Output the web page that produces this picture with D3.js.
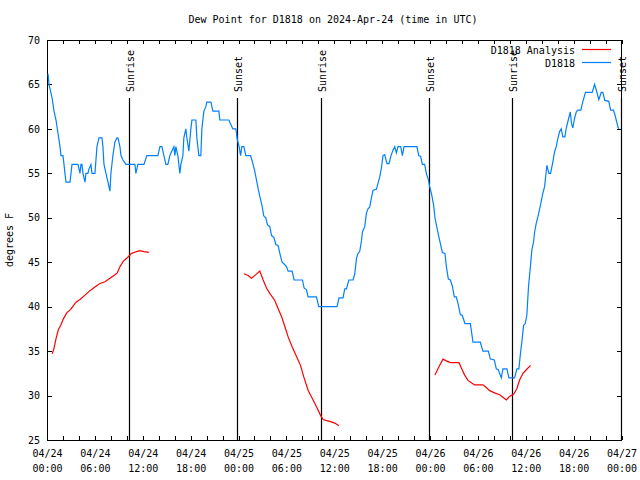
<!DOCTYPE html>
<html>
<head>
<meta charset="utf-8">
<script src="https://cdn.jsdelivr.net/npm/d3@7"></script>
<style>
  html, body { margin: 0; padding: 0; background: #fff; }
  svg { display: block; }
  text { font-family: "DejaVu Sans Mono", "Liberation Mono", monospace; font-size: 10px; fill: #000; }
</style>
</head>
<body>
<svg id="chart" width="640" height="480"></svg>
<script>
// ---------------- data ----------------
const titleText = "Dew Point for D1818 on 2024-Apr-24 (time in UTC)";
const yLabelText = "degrees F";
const startUTC = Date.UTC(2024, 3, 24, 0, 0);
const endUTC = Date.UTC(2024, 3, 27, 0, 0);
const yTicks = [25, 30, 35, 40, 45, 50, 55, 60, 65, 70];

// observed (hours since 04/24 00:00 UTC)
const obsHours = [0.13,0.25,0.38,0.63,0.88,1.13,1.38,1.63,1.75,2.00,2.13,2.25,2.38,2.88,3.01,3.13,3.88,4.01,4.13,4.26,4.38,4.51,4.76,4.88,5.13,5.26,5.51,5.63,6.01,6.26,6.51,6.89,7.01,7.14,7.39,7.64,7.89,8.01,8.26,8.51,8.77,8.89,9.14,9.27,9.52,9.89,11.02,11.14,11.39,12.15,12.52,13.90,14.15,14.40,14.65,14.90,15.15,15.40,15.65,15.90,16.03,16.15,16.40,16.65,16.78,17.03,17.15,17.40,17.53,17.78,18.03,18.16,18.66,18.78,19.03,19.28,19.41,19.66,19.91,20.03,20.54,20.79,21.54,21.66,22.79,23.04,23.29,23.67,23.83,24.08,24.26,24.42,24.67,24.92,25.51,25.83,26.05,26.26,26.46,26.67,26.96,27.17,27.42,27.64,27.92,28.14,28.43,28.68,28.96,29.18,29.46,29.72,30.02,30.22,30.72,30.97,32.02,32.22,32.52,32.72,33.77,34.06,36.35,36.60,37.10,37.32,37.53,37.82,38.36,38.57,38.78,38.98,39.19,39.41,39.53,39.82,40.03,40.23,40.44,40.66,40.86,41.28,41.49,41.70,41.91,42.11,42.32,42.61,42.86,43.11,43.36,43.58,43.79,43.99,44.33,44.54,44.74,46.37,46.58,46.83,47.04,47.33,47.54,47.79,47.96,48.21,48.46,48.62,48.80,49.05,49.30,49.55,49.88,50.05,50.30,50.55,50.80,51.05,51.30,51.55,51.80,52.05,52.38,53.06,53.31,53.38,54.31,54.63,55.31,55.56,56.06,56.31,56.56,56.72,56.94,57.14,57.64,57.89,58.60,58.89,59.14,59.32,59.52,59.73,59.94,60.14,60.35,60.60,60.77,60.98,61.11,61.32,61.52,61.82,62.15,62.36,62.65,62.90,63.11,63.40,63.61,63.82,64.02,64.24,64.45,64.65,64.90,65.08,65.33,65.58,65.74,65.90,66.12,66.33,66.53,66.91,67.16,67.49,68.33,68.62,68.83,69.16,69.46,69.66,69.91,70.41,70.63,71.00,71.17,71.34,71.59,71.69];
const obsDewF = [66.2,65,64.5,63.5,62,61,59.5,58,57,57,56,55,54,54,55,56,56,55.5,55,56,56,55,54,55,55,55.5,56,55,55,58,59,59,58,56,55,54,53,55,57,58.5,59,59,58,57,56.5,56,56,55,56,56,57,57,58,58,57,56,56,57,57.5,58,57,58,57,55,56,57,59,60,59,57.5,60,61,61,59,57,57,60,62,62.5,63,63,62,62,61,61,60.5,60,60,58.9,58,57,58,58,57,57,56,55.2,54.2,53.3,52.4,51.3,50.2,50,49.2,49,48,47.8,47,46.9,46,45,44.8,44.5,44,44,43,43,42.1,41.9,41.1,41.1,40,40,41,41,42,42,43,43,43.7,45.4,46,46.2,47.4,48.4,49,50.5,51,51.2,52.2,53.1,53.2,53.9,54.6,55.6,57,57.1,56.1,56.1,57,57.6,58,57.3,58,58,57,58,58,57,56.9,56,56,55,54.3,53.5,52.6,51.4,50,49.2,48.1,47.1,46.1,46,44.5,43.1,43,42.3,41.1,41.1,40.2,39.1,39,38.1,38.1,36.5,36,36,35,35,34.1,34,33,32.9,32.5,32,33,33,32,32,33,33,34.6,36.1,37.9,38.1,39.1,42.3,44.7,46.4,47.3,48.4,49.4,50.1,51.3,52.8,53.5,55.9,55,55,56.3,57.4,58,58.9,59.7,60,59.1,59.1,60.1,61,61.9,60.6,60.1,61.2,61.9,62.1,62.1,63.1,64.1,64.1,65,64.4,63.3,64.1,64.1,63.2,63.1,62.1,62.1,61.6,61,60.1,60];

// analysis segments
const ana1Hours = [0.66,0.88,1.13,1.42,1.72,2.04,2.47,2.97,3.29,3.63,4.13,4.76,5.38,6.01,6.64,7.26,7.89,8.51,8.80,9.14,9.55,10.06,10.61,11.23,11.65,12.15,12.77];
const ana1DewF  = [34.7,35.3,36.4,37.4,37.9,38.6,39.3,39.7,40.1,40.5,40.8,41.3,41.8,42.2,42.6,42.8,43.2,43.6,43.8,44.5,45.1,45.5,46.0,46.2,46.3,46.2,46.1];
const ana2Hours = [24.67,25.21,25.63,26.17,26.67,27.09,27.51,27.92,28.55,28.96,29.39,29.80,30.22,30.72,31.27,31.77,32.18,32.72,33.35,33.85,34.27,34.60,34.94,35.44,36.06,36.60];
const ana2DewF  = [43.7,43.5,43.2,43.6,44.0,43.0,42.1,41.5,40.7,39.8,38.9,37.8,36.6,35.5,34.4,33.4,32.1,30.6,29.5,28.6,27.8,27.3,27.2,27.1,26.9,26.6];
const ana3Hours = [48.62,49.12,49.63,50.05,50.55,51.63,51.93,52.34,52.76,53.18,53.60,54.63,55.06,55.47,56.10,56.72,57.14,57.56,57.98,58.52,58.89,59.23,59.65,60.07,60.60];
const ana3DewF  = [32.3,33.25,34.1,33.9,33.7,33.7,33.1,32.3,31.7,31.45,31.2,31.2,30.9,30.55,30.3,30.1,29.8,29.5,29.9,30.2,30.8,31.75,32.5,32.9,33.4];

const sunHours  = [10.32, 23.85, 34.31, 47.87, 58.27, 71.9];
const sunLabels = ["Sunrise", "Sunset", "Sunrise", "Sunset", "Sunrise", "Sunset"];

const legendLabels = ["D1818 Analysis", "D1818"];
const legendColors = ["#ff0000", "#0080ff"];

// ---------------- drawing ----------------
const svg = d3.select("#chart");
const L = 47, R = 621.5, T = 40, B = 440;
const toDate = h => new Date(startUTC + h * 3600e3);

const x = d3.scaleUtc().domain([new Date(startUTC), new Date(endUTC)]).range([L, R]);
const y = d3.scaleLinear().domain([25, 70]).range([B, T]);

// title
svg.append("text").attr("x", 333).attr("y", 23).attr("text-anchor", "middle").text(titleText);

// y label
svg.append("text").attr("transform", `translate(13,${(T + B) / 2}) rotate(-90)`)
  .attr("text-anchor", "middle").text(yLabelText);

// axes: left with labels
const gLeft = svg.append("g").attr("transform", `translate(${L},0)`)
  .call(d3.axisLeft(y).tickValues(yTicks).tickSizeInner(-5).tickSizeOuter(0).tickPadding(7).tickFormat(d3.format("d")));
const gRight = svg.append("g").attr("transform", `translate(${R},0)`)
  .call(d3.axisRight(y).tickValues(yTicks).tickSizeInner(-5).tickSizeOuter(0).tickFormat(""));

const minorTicks = d3.utcHour.every(2).range(new Date(startUTC), new Date(endUTC + 1));
const gBottom = svg.append("g").attr("transform", `translate(0,${B})`)
  .call(d3.axisBottom(x).tickValues(minorTicks).tickSizeInner(-4).tickSizeOuter(0).tickFormat(""));
const gTop = svg.append("g").attr("transform", `translate(0,${T})`)
  .call(d3.axisTop(x).tickValues(minorTicks).tickSizeInner(-4).tickSizeOuter(0).tickFormat(""));

// bottom labels (two lines)
const labelTicks = d3.utcHour.every(6).range(new Date(startUTC), new Date(endUTC + 1));
const fmtD = d3.utcFormat("%m/%d"), fmtT = d3.utcFormat("%H:%M");
const gLab = svg.append("g").attr("transform", `translate(0,${B})`)
  .call(d3.axisBottom(x).tickValues(labelTicks).tickSize(0).tickPadding(11).tickFormat(""));
gLab.select(".domain").remove();
gLab.selectAll(".tick").each(function(d) {
  const t = d3.select(this).select("text");
  t.attr("y", 0).attr("dy", null);
  t.append("tspan").attr("x", 0).attr("y", 17).text(fmtD(d));
  t.append("tspan").attr("x", 0).attr("y", 32).text(fmtT(d));
});

[gLeft, gRight, gBottom, gTop].forEach(g => {
  g.selectAll(".domain").remove();
  g.selectAll("line").attr("stroke", "#000").attr("shape-rendering", "crispEdges");
});
svg.selectAll(".tick text").attr("font-family", null).attr("font-size", null);

// frame
svg.append("rect").attr("x", L).attr("y", T).attr("width", R - L).attr("height", B - T)
  .attr("fill", "none").attr("stroke", "#000").attr("stroke-width", 1).attr("shape-rendering", "crispEdges");

// sunrise / sunset lines
const sunG = svg.append("g");
sunHours.forEach((h, i) => {
  const xx = Math.round(x(toDate(h))) + 0.5;
  sunG.append("line").attr("x1", xx).attr("x2", xx).attr("y1", 98).attr("y2", B)
    .attr("stroke", "#000").attr("stroke-width", 1.2);
  sunG.append("text").attr("transform", `translate(${xx + 4},92) rotate(-90)`)
    .attr("text-anchor", "start").text(sunLabels[i]);
});

// lines
const line = d3.line().x(d => x(toDate(d[0]))).y(d => y(d[1]));
const zip = (a, b) => a.map((v, i) => [v, b[i]]);
svg.append("path").datum(zip(obsHours, obsDewF)).attr("d", line)
  .attr("fill", "none").attr("stroke", legendColors[1]).attr("stroke-width", 1.2);
[[ana1Hours, ana1DewF], [ana2Hours, ana2DewF], [ana3Hours, ana3DewF]].forEach(([h, v]) => {
  svg.append("path").datum(zip(h, v)).attr("d", line)
    .attr("fill", "none").attr("stroke", legendColors[0]).attr("stroke-width", 1.2);
});

// legend
const lg = svg.append("g");
legendLabels.forEach((lab, i) => {
  const yy = 50 + i * 13;
  lg.append("rect").attr("x", 488).attr("y", yy - 6).attr("width", 90).attr("height", 12).attr("fill", "#fff").attr("opacity", 0);
  lg.append("text").attr("x", 575).attr("y", yy).attr("dy", "0.35em").attr("text-anchor", "end").text(lab);
  lg.append("line").attr("x1", 582).attr("x2", 611).attr("y1", yy - 0.5).attr("y2", yy - 0.5)
    .attr("stroke", legendColors[i]).attr("stroke-width", 1.2);
});
</script>
</body>
</html>
